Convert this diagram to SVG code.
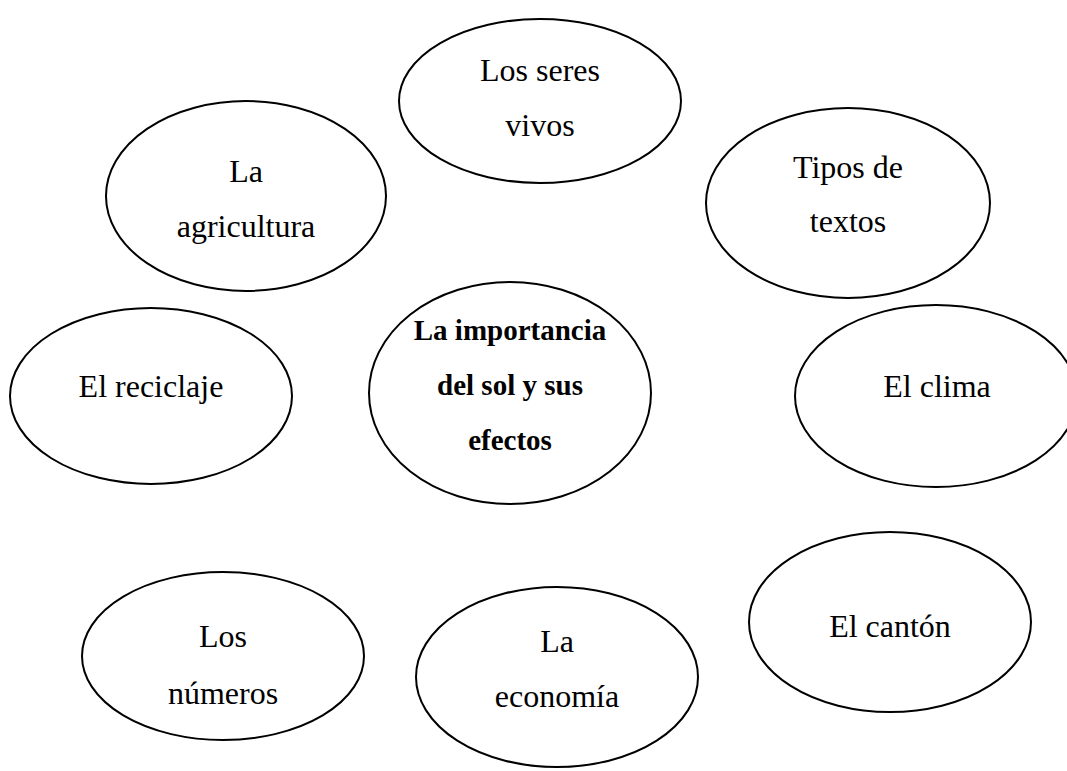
<svg xmlns="http://www.w3.org/2000/svg" width="1067" height="771" viewBox="0 0 1067 771">
<style>
.n{fill:#fff;stroke:#000;stroke-width:2}
.t{font-family:"Liberation Serif","Times New Roman",serif;font-size:32px;fill:#000;text-anchor:middle}
.b{font-weight:bold;font-size:29px}
</style>
<rect width="1067" height="771" fill="#fff"/>
<g id="connectors"></g>
<g id="n-seres"><ellipse class="n" cx="540" cy="101" rx="141" ry="82"/><text class="t" x="540" y="81">Los seres</text><text class="t" x="540" y="136">vivos</text></g>
<g id="n-agricultura"><ellipse class="n" cx="246" cy="196" rx="140" ry="95"/><text class="t" x="246" y="182">La</text><text class="t" x="246" y="237">agricultura</text></g>
<g id="n-tipos"><ellipse class="n" cx="848" cy="203" rx="142" ry="95"/><text class="t" x="848" y="178">Tipos de</text><text class="t" x="848" y="232">textos</text></g>
<g id="n-reciclaje"><ellipse class="n" cx="151" cy="396" rx="141" ry="88"/><text class="t" x="151" y="397">El reciclaje</text></g>
<g id="n-centro"><ellipse class="n" cx="510" cy="393" rx="141" ry="111"/><text class="t b" x="510" y="340">La importancia</text><text class="t b" x="510" y="395">del sol y sus</text><text class="t b" x="510" y="450">efectos</text></g>
<g id="n-clima"><ellipse class="n" cx="936" cy="396" rx="141" ry="91"/><text class="t" x="937" y="397">El clima</text></g>
<g id="n-numeros"><ellipse class="n" cx="223" cy="656" rx="141" ry="84"/><text class="t" x="223" y="647">Los</text><text class="t" x="223" y="704">números</text></g>
<g id="n-economia"><ellipse class="n" cx="557" cy="677" rx="141" ry="90"/><text class="t" x="557" y="652">La</text><text class="t" x="557" y="707">economía</text></g>
<g id="n-canton"><ellipse class="n" cx="890" cy="622" rx="141" ry="90"/><text class="t" x="890" y="637">El cantón</text></g>
</svg>
